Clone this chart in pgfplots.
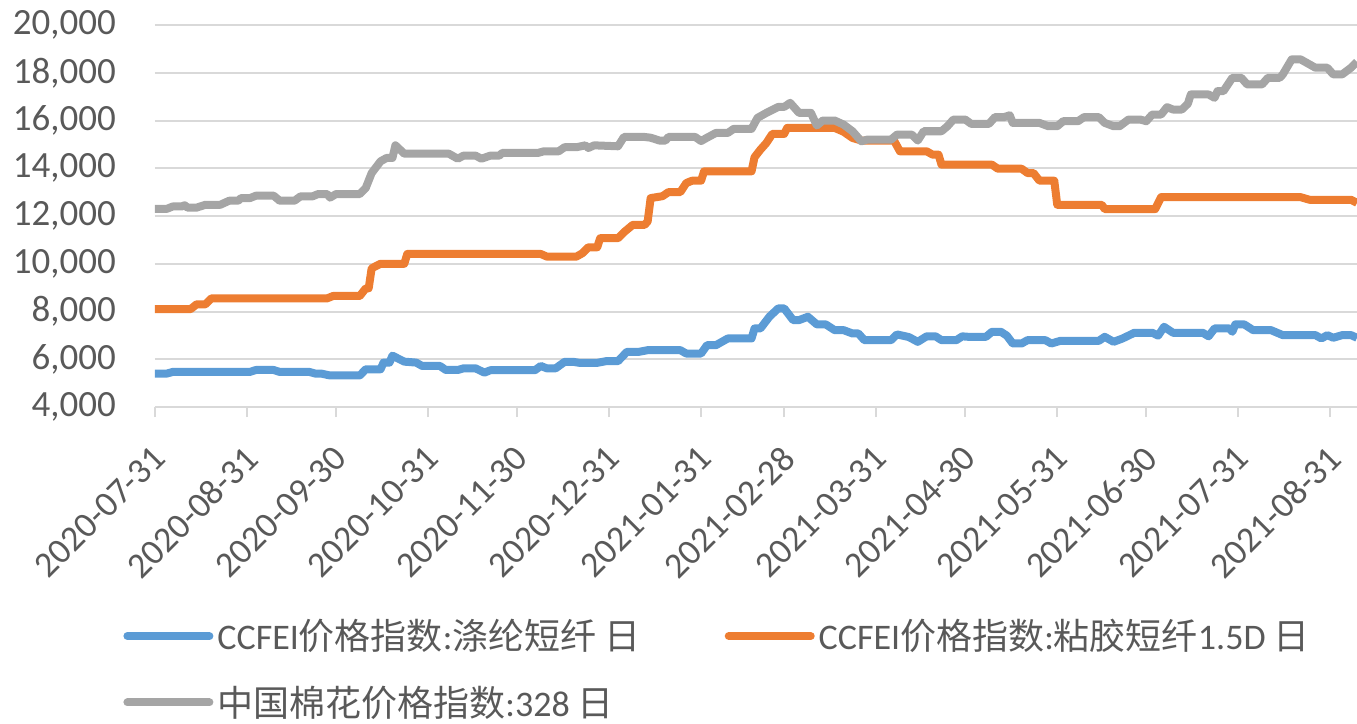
\documentclass[border=0pt]{standalone}
\usepackage{pgfplots}
\pgfplotsset{compat=1.18}
\usepackage{fontspec}
\setmainfont{Carlito}
\newfontfamily\cjk{Noto Sans CJK SC}

\definecolor{cblue}{HTML}{5B9BD5}
\definecolor{corange}{HTML}{ED7D31}
\definecolor{cgray}{HTML}{A5A5A5}
\definecolor{ctext}{HTML}{595959}
\definecolor{cgrid}{HTML}{D9D9D9}

\begin{document}
\begin{tikzpicture}
\begin{axis}[
    at={(0,0)}, anchor=south west,
    width=601pt, height=191pt,
    scale only axis,
    xmin=0, xmax=405,
    ymin=4000, ymax=20000,
    ytick={4000,6000,...,20000},
    xtick={0,31,61,92,122,153,184,212,243,273,304,334,365,396},
    xticklabels={2020-07-31,2020-08-31,2020-09-30,2020-10-31,2020-11-30,2020-12-31,2021-01-31,2021-02-28,2021-03-31,2021-04-30,2021-05-31,2021-06-30,2021-07-31,2021-08-31},
    xticklabel style={rotate=45, anchor=north east, font=\fontsize{18}{20}\selectfont, text=ctext, xshift=-7.4pt, yshift=-4.6pt},
    yticklabel style={font=\fontsize{18.5}{20}\selectfont, text=ctext, xshift=-16pt, /pgf/number format/.cd, fixed, 1000 sep={,}, assume math mode=true},
    scaled y ticks=false,
    axis lines*=left,
    x axis line style={draw=cgrid, line width=1pt},
    y axis line style={draw=none},
    ymajorgrids=true,
    grid style={draw=cgrid, line width=1pt},
    xtick style={draw=cgrid, line width=1pt},
    ytick style={draw=none},
    xtick align=outside,
    major tick length=5pt,
    clip=true,
    legend columns=2,
    legend cell align=left,
    legend image code/.code={\draw[#1, line cap=round] (0pt,0pt) -- (41pt,0pt);},
    legend style={at={(rel axis cs:0,0)}, anchor=north west, xshift=-19pt, yshift=-102pt,
        draw=none, fill=none, text=ctext, font=\fontsize{18}{22}\selectfont,
        /tikz/every even column/.append style={column sep=40pt}, row sep=12.5pt},
]
\addplot[cblue, line width=4pt, line join=round] coordinates {
(0,5400)(4,5400)(6,5470)(32,5470)(34,5550)(40,5550)(42,5470)(52,5470)(54,5400)(56,5400)(59,5320)(69,5320)(71,5580)(76,5580)(77,5860)(79,5860)(80,6150)(84,5900)(88,5860)(90,5720)(96,5720)(98,5550)(102,5550)(104,5620)(108,5620)(111,5440)(113,5540)(128,5540)(130,5720)(132,5620)(135,5620)(138,5890)(141,5890)(143,5850)(149,5850)(152,5920)(156,5920)(159,6310)(163,6310)(166,6380)(177,6380)(179,6240)(184,6240)(186,6590)(189,6590)(193,6870)(201,6870)(202,7290)(204,7290)(207,7780)(210,8130)(212,8130)(215,7640)(217,7640)(220,7780)(223,7460)(226,7460)(229,7220)(232,7220)(235,7080)(237,7080)(239,6800)(248,6800)(250,7040)(254,6930)(257,6730)(260,6960)(263,6960)(265,6800)(270,6800)(272,6960)(274,6940)(280,6940)(282,7150)(285,7150)(287,6990)(289,6660)(292,6660)(294,6800)(300,6800)(302,6660)(305,6770)(318,6770)(320,6940)(323,6730)(326,6870)(330,7110)(336,7110)(338,6990)(340,7360)(343,7110)(353,7110)(355,6960)(357,7290)(362,7290)(363,7150)(364,7460)(367,7460)(370,7220)(376,7220)(380,7010)(391,7010)(393,6870)(395,7010)(397,6900)(400,7010)(403,7010)(405,6900)
};
\addlegendentry{CCFEI{\cjk 价格指数}:{\cjk 涤纶短纤} {\cjk 日}}
\addplot[corange, line width=4pt, line join=round] coordinates {
(0,8100)(12,8100)(14,8300)(17,8300)(19,8550)(58,8550)(60,8650)(69,8650)(71,8970)(72,8970)(73,9810)(76,10000)(84,10000)(85,10410)(130,10410)(132,10300)(142,10300)(144,10440)(146,10690)(149,10690)(150,11070)(156,11070)(158,11320)(161,11630)(165,11630)(166,11770)(167,12750)(171,12830)(173,13000)(177,13000)(179,13380)(181,13480)(184,13480)(185,13870)(201,13870)(202,14460)(204,14780)(206,15060)(208,15440)(212,15440)(213,15690)(229,15690)(232,15530)(235,15270)(238,15160)(249,15160)(251,14710)(260,14710)(262,14570)(264,14570)(265,14150)(282,14150)(284,13980)(292,13980)(294,13800)(296,13800)(298,13480)(303,13480)(304,12470)(319,12470)(320,12290)(337,12290)(339,12790)(386,12790)(389,12680)(403,12680)(405,12550)
};
\addlegendentry{CCFEI{\cjk 价格指数}:{\cjk 粘胶短纤}1.5D {\cjk 日}}
\addplot[cgray, line width=4pt, line join=round] coordinates {
(0,12300)(4,12300)(6,12400)(9,12400)(10,12450)(11,12350)(14,12350)(17,12470)(22,12470)(25,12640)(28,12640)(29,12750)(32,12750)(34,12850)(40,12850)(42,12640)(47,12640)(49,12820)(53,12820)(55,12920)(58,12920)(59,12770)(61,12920)(69,12920)(71,13170)(73,13800)(76,14290)(78,14430)(80,14430)(81,14960)(84,14610)(99,14610)(102,14400)(104,14530)(108,14530)(110,14400)(113,14530)(116,14530)(117,14640)(129,14640)(131,14710)(136,14710)(138,14880)(142,14880)(145,14960)(146,14850)(148,14960)(156,14920)(158,15310)(165,15310)(167,15280)(170,15160)(172,15160)(173,15310)(182,15310)(184,15140)(186,15280)(189,15480)(193,15480)(195,15650)(201,15650)(203,16110)(206,16320)(210,16570)(212,16570)(214,16740)(217,16320)(221,16320)(223,15790)(225,16000)(229,16000)(232,15830)(235,15550)(238,15130)(240,15200)(248,15200)(250,15410)(255,15410)(257,15160)(259,15550)(265,15550)(267,15760)(269,16040)(273,16040)(275,15860)(281,15860)(283,16140)(286,16140)(288,16220)(289,15900)(298,15900)(301,15760)(304,15760)(306,15970)(311,15970)(313,16140)(318,16140)(320,15900)(323,15760)(325,15760)(328,16040)(332,16040)(334,15970)(336,16250)(339,16250)(341,16560)(343,16460)(346,16460)(348,16700)(349,17090)(355,17090)(357,16950)(358,17230)(360,17230)(363,17790)(366,17790)(368,17510)(373,17510)(375,17790)(379,17790)(380,17930)(383,18560)(386,18560)(391,18210)(395,18210)(397,17930)(400,17930)(403,18210)(405,18460)
};
\addlegendentry{{\cjk 中国棉花价格指数}:328 {\cjk 日}}
\end{axis}
\pgfresetboundingbox
\path[use as bounding box] (-77.5pt,-158.5pt) rectangle (601pt,203.5pt);
\end{tikzpicture}
\end{document}
